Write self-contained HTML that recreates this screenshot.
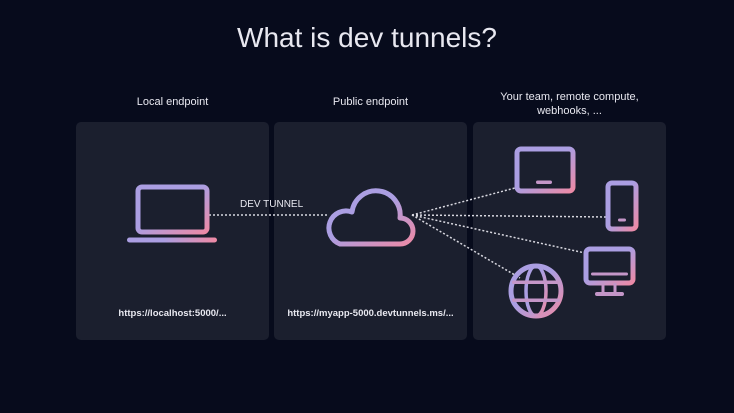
<!DOCTYPE html>
<html><head><style>
body{margin:0;background:#070b1c;width:734px;height:413px;overflow:hidden;font-family:"Liberation Sans",sans-serif;}
.t{position:absolute;color:#e8e8f0;text-align:center}
.p{position:absolute;top:122px;width:193px;height:218px;background:#1b1f2e;border-radius:5px}
</style></head><body>
<div class="t" style="left:0;width:734px;top:22px;font-size:28px;">What is dev tunnels?</div>
<div class="t" style="left:76px;width:193px;top:96px;font-size:11px;">Local endpoint</div>
<div class="t" style="left:274px;width:193px;top:96px;font-size:11px;">Public endpoint</div>
<div class="t" style="left:473px;width:193px;top:90px;font-size:11px;line-height:14px;">Your team, remote compute,<br>webhooks, ...</div>
<div class="p" style="left:76px"></div>
<div class="p" style="left:274px"></div>
<div class="p" style="left:473px"></div>
<div class="t" style="left:76px;width:193px;top:308px;font-size:9.5px;font-weight:bold;">https://localhost:5000/...</div>
<div class="t" style="left:274px;width:193px;top:308px;font-size:9.5px;font-weight:bold;">https://myapp-5000.devtunnels.ms/...</div>
<div class="t" style="left:240px;top:199px;font-size:10px;">DEV TUNNEL</div>
<svg width="734" height="413" style="position:absolute;left:0;top:0">
<defs><linearGradient id="g" x1="0" y1="0" x2="1" y2="1"><stop offset="0.45" stop-color="#ab9ee2"/><stop offset="1" stop-color="#ec8aa6"/></linearGradient>
<linearGradient id="gh" gradientUnits="userSpaceOnUse" x1="129" y1="0" x2="215" y2="0"><stop offset="0.4" stop-color="#ab9ee2"/><stop offset="1" stop-color="#ec8aa6"/></linearGradient></defs>
<g stroke="#d8d8e0" stroke-width="1.5" stroke-dasharray="2 2" fill="none">
<line x1="209" y1="215" x2="328" y2="215"/>
<line x1="412" y1="215" x2="515" y2="188"/>
<line x1="412" y1="215" x2="607" y2="217"/>
<line x1="412" y1="215" x2="585" y2="253"/>
<line x1="412" y1="215" x2="520" y2="278"/>
</g>
<rect x="127" y="237.5" width="90" height="5" rx="2.5" fill="url(#gh)"/>
<g fill="none" stroke="url(#g)" stroke-width="5" stroke-linecap="round" stroke-linejoin="round">
<rect x="138" y="187" width="69" height="45" rx="4"/>
<path d="M340 244 H400 A13 13 0 0 0 400 218 A24 24 0 0 0 352 212 A16 16 0 0 0 340 244 Z"/>
<rect x="517" y="149" width="56" height="42" rx="4"/>
<rect x="608" y="183" width="28" height="46" rx="4"/>
<rect x="586" y="249" width="47" height="34" rx="4"/>
<circle cx="536" cy="291" r="25"/>
<ellipse cx="536" cy="291" rx="10" ry="25" stroke-width="3.5"/>
</g>
<g fill="#c496c8">
<rect x="536" y="180.5" width="16" height="3.5" rx="1.7"/>
<rect x="618" y="218.5" width="8" height="3" rx="1.5"/>
<rect x="591" y="272.5" width="37" height="3" rx="1.5"/>
<rect x="601.5" y="283" width="3" height="10"/>
<rect x="613.5" y="283" width="3" height="10"/>
<rect x="595" y="292" width="29" height="4" rx="2"/>
<rect x="512" y="280.5" width="48" height="3.5" rx="1.7"/>
<rect x="512" y="298.5" width="48" height="3.5" rx="1.7"/>
</g>
</svg>
</body></html>
